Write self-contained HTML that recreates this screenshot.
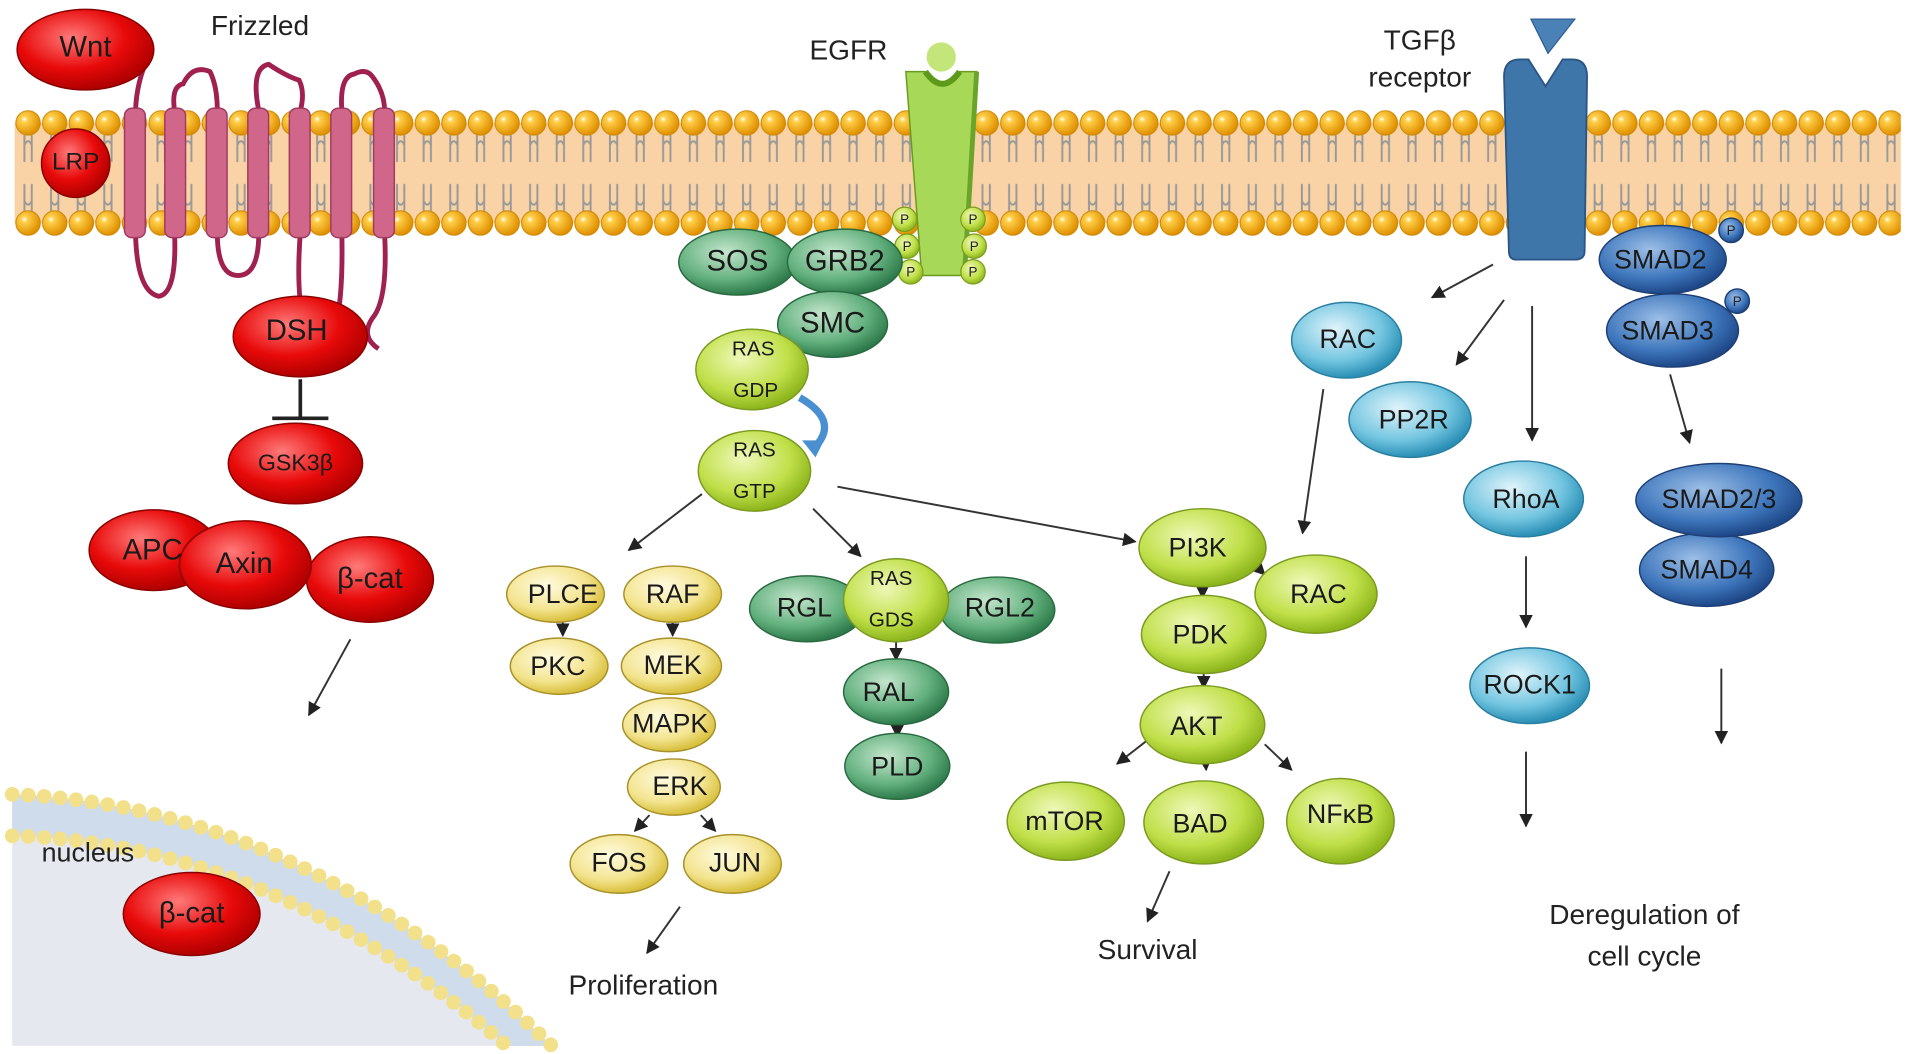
<!DOCTYPE html>
<html><head><meta charset="utf-8"><style>
html,body{margin:0;padding:0;background:#fff;}
svg{display:block;}
text{font-family:"Liberation Sans",sans-serif;fill:#222;}
.n{font-size:24px;text-anchor:middle;dominant-baseline:central;fill:#1a1a1a;}
.s{font-size:17px;text-anchor:middle;dominant-baseline:central;fill:#1a1a1a;}
.l{font-size:23px;text-anchor:middle;fill:#222;}
</style></head><body>
<svg width="1913" height="1054" viewBox="0 0 1567 862" xmlns="http://www.w3.org/2000/svg">
<defs>
<radialGradient id="red" cx="40%" cy="35%" r="65%"><stop offset="0" stop-color="#ff7a7a"/><stop offset="0.6" stop-color="#e80a0a"/><stop offset="1" stop-color="#b00000"/></radialGradient>
<radialGradient id="yel" cx="40%" cy="35%" r="65%"><stop offset="0" stop-color="#fffbe0"/><stop offset="0.65" stop-color="#f3e48f"/><stop offset="1" stop-color="#d8bf3c"/></radialGradient>
<radialGradient id="lg" cx="40%" cy="35%" r="65%"><stop offset="0" stop-color="#eef8b8"/><stop offset="0.65" stop-color="#c0df48"/><stop offset="1" stop-color="#8db51c"/></radialGradient>
<radialGradient id="dg" cx="40%" cy="35%" r="65%"><stop offset="0" stop-color="#c4e6cd"/><stop offset="0.65" stop-color="#62b07d"/><stop offset="1" stop-color="#2e7a4b"/></radialGradient>
<radialGradient id="lb" cx="40%" cy="35%" r="65%"><stop offset="0" stop-color="#e0f4fb"/><stop offset="0.65" stop-color="#73c5e0"/><stop offset="1" stop-color="#2a8fb5"/></radialGradient>
<radialGradient id="db" cx="40%" cy="35%" r="65%"><stop offset="0" stop-color="#9dbfe6"/><stop offset="0.65" stop-color="#3f77bd"/><stop offset="1" stop-color="#1e4888"/></radialGradient>
<radialGradient id="bead" cx="35%" cy="35%" r="65%"><stop offset="0" stop-color="#fff"/><stop offset="0.2" stop-color="#ffcf4a"/><stop offset="1" stop-color="#e09000"/></radialGradient>
<pattern id="mem" x="12" y="88" width="21.8" height="106" patternUnits="userSpaceOnUse">
<path d="M8,22 L8,30 M14,22 L14,30 M8,30 Q11,24 14,30 M8,30 L8,44 M14,30 L14,44 M8,62 L8,76 M14,62 L14,76 M8,76 Q11,82 14,76 M8,76 L8,84 M14,76 L14,84" stroke="#999" stroke-width="1.6" fill="none"/>
<circle cx="11" cy="12" r="10" fill="url(#bead)" stroke="#c98400" stroke-width="0.8"/>
<circle cx="11" cy="94" r="10" fill="url(#bead)" stroke="#c98400" stroke-width="0.8"/>
</pattern>
<marker id="ar" viewBox="0 0 10 10" refX="9" refY="5" markerWidth="7" markerHeight="7" orient="auto"><path d="M0,0 L10,5 L0,10 z" fill="#222"/></marker>
</defs>

<!-- nucleus -->
<path d="M10,650 Q250,660 452,856 L10,856 Z" fill="#e5e9ef"/>
<path d="M10,650 Q250,660 452,856 L415,856 Q225,690 10,684 Z" fill="#cfdceb"/>
<path d="M10,650 Q250,660 452,856" fill="none" stroke="#f3e08a" stroke-width="12" stroke-dasharray="0.1 13" stroke-linecap="round"/>
<path d="M10,650 Q250,660 452,856" fill="none" stroke="#b8a24a" stroke-width="0.6" opacity="0"/>
<path d="M10,684 Q225,690 415,856" fill="none" stroke="#f3e08a" stroke-width="12" stroke-dasharray="0.1 13" stroke-linecap="round"/>
<text x="72" y="705" class="l" style="font-size:22px">nucleus</text>

<!-- membrane -->
<rect x="12" y="100" width="1545" height="82" fill="#f9d3a6"/>
<rect x="12" y="88" width="1545" height="106" fill="url(#mem)"/>

<!-- Frizzled -->
<path d="M122,45 Q112,65 111,90 M143,90 Q140,70 150,68 Q158,52 172,58 Q178,70 178,90 M212,90 Q205,55 220,52 Q235,62 245,65 Q250,75 246,90 M280,90 Q278,62 290,60 Q300,55 305,62 Q315,75 315,90" fill="none" stroke="#a02050" stroke-width="4"/>
<path d="M111,190 Q112,238 130,242 Q145,240 143,190 M178,190 Q178,225 195,225 Q212,225 212,190 M246,190 Q240,270 262,285 Q282,280 280,190 M315,190 Q318,245 305,260 Q295,275 310,285" fill="none" stroke="#a02050" stroke-width="4"/>
<g fill="#d0678a" stroke="#a03a60" stroke-width="1.2">
<rect x="102" y="88" width="17" height="106" rx="6"/><rect x="135" y="88" width="17" height="106" rx="6"/>
<rect x="169" y="88" width="17" height="106" rx="6"/><rect x="203" y="88" width="17" height="106" rx="6"/>
<rect x="237" y="88" width="17" height="106" rx="6"/><rect x="271" y="88" width="17" height="106" rx="6"/>
<rect x="306" y="88" width="17" height="106" rx="6"/></g>
<text x="213" y="28" class="l">Frizzled</text>

<!-- EGFR -->
<circle cx="771" cy="46" r="12" fill="#c4e57a"/>
<path d="M742,58 L758,58 Q772,78 786,58 L800,58 L790,225 L755,225 Z" fill="#a8d858" stroke="#6a9a20" stroke-width="1.2"/>
<path d="M758,58 Q772,78 786,58" fill="none" stroke="#5d9a1a" stroke-width="5"/>
<path d="M800,58 L790,225" stroke="#6aa52a" stroke-width="4"/>
<g fill="url(#lg)" stroke="#7a9d20" stroke-width="1"><circle cx="741" cy="179" r="10"/><circle cx="743" cy="201" r="10"/><circle cx="746" cy="222" r="10"/><circle cx="797" cy="179" r="10"/><circle cx="798" cy="201" r="10"/><circle cx="797" cy="222" r="10"/></g>
<g font-size="11" text-anchor="middle"><text x="741" y="183">P</text><text x="743" y="205">P</text><text x="746" y="226">P</text><text x="797" y="183">P</text><text x="798" y="205">P</text><text x="797" y="226">P</text></g>
<text x="695" y="48" class="l">EGFR</text>

<!-- TGF receptor -->
<path d="M1254,15 L1290,15 L1268,43 Z" fill="#4a82b8" stroke="#2d5f94"/>
<path d="M1232,62 Q1232,48 1245,48 L1252,48 L1266,70 L1280,48 L1288,48 Q1300,48 1300,62 L1298,205 Q1298,212 1290,212 L1242,212 Q1236,212 1236,205 Z" fill="#3f76aa" stroke="#2a5585" stroke-width="1.5"/>
<text x="1163" y="40" class="l">TGFβ</text><text x="1163" y="70" class="l">receptor</text>

<!-- arrows -->
<g stroke="#333" stroke-width="1.6" fill="none" marker-end="url(#ar)">
<line x1="287" y1="523" x2="253" y2="585"/>
<line x1="557" y1="742" x2="530" y2="780"/>
<line x1="575" y1="404" x2="515" y2="450"/>
<line x1="666" y1="416" x2="705" y2="455"/>
<line x1="686" y1="398" x2="930" y2="443"/>
<line x1="461" y1="509" x2="461" y2="520"/><line x1="551" y1="509" x2="551" y2="520"/>
<line x1="550" y1="633" x2="550" y2="622"/>
<line x1="532" y1="667" x2="520" y2="680"/><line x1="574" y1="667" x2="586" y2="680"/>
<line x1="734" y1="522" x2="734" y2="540"/><line x1="735" y1="592" x2="735" y2="603"/>
<line x1="985" y1="478" x2="985" y2="489"/><line x1="986" y1="549" x2="986" y2="563"/>
<line x1="1022" y1="456" x2="1036" y2="470"/>
<line x1="942" y1="604" x2="915" y2="625"/><line x1="987" y1="616" x2="988" y2="630"/><line x1="1036" y1="609" x2="1058" y2="630"/>
<line x1="958" y1="713" x2="940" y2="754"/>
<line x1="1223" y1="216" x2="1173" y2="243"/>
<line x1="1232" y1="245" x2="1193" y2="298"/>
<line x1="1255" y1="250" x2="1255" y2="360"/>
<line x1="1084" y1="318" x2="1067" y2="436"/>
<line x1="1250" y1="455" x2="1250" y2="513"/>
<line x1="1250" y1="615" x2="1250" y2="676"/>
<line x1="1368" y1="306" x2="1384" y2="362"/>
<line x1="1410" y1="547" x2="1410" y2="608"/>
</g>
<path d="M246,310 L246,342 M223,342 L269,342" stroke="#222" stroke-width="3" fill="none"/>
<path d="M655,325 Q690,345 665,368" fill="none" stroke="#4a90d0" stroke-width="6"/>
<path d="M657,360 L668,374 L675,360 Z" fill="#4a90d0"/>

<!-- Wnt pathway nodes -->
<g stroke="#8a0000" stroke-width="1.2">
<ellipse cx="70" cy="40" rx="56" ry="33" fill="url(#red)"/>
<circle cx="62" cy="133" r="28" fill="url(#red)"/>
<ellipse cx="246" cy="275" rx="55" ry="33" fill="url(#red)"/>
<ellipse cx="242" cy="379" rx="55" ry="33" fill="url(#red)"/>
<ellipse cx="126" cy="450" rx="53" ry="33" fill="url(#red)"/>
<ellipse cx="303" cy="474" rx="52" ry="35" fill="url(#red)"/>
<ellipse cx="201" cy="462" rx="54" ry="36" fill="url(#red)"/>
<ellipse cx="157" cy="748" rx="56" ry="34" fill="url(#red)"/>
</g>
<text x="70" y="38" class="n">Wnt</text><text x="62" y="132" class="n" style="font-size:20px">LRP</text>
<text x="243" y="270" class="n">DSH</text><text x="242" y="378" class="s" style="font-size:19px">GSK3β</text>
<text x="125" y="450" class="n">APC</text><text x="200" y="461" class="n">Axin</text><text x="303" y="473" class="n">β-cat</text>
<text x="157" y="747" class="n">β-cat</text>

<!-- EGFR pathway -->
<g stroke="#2a6a40" stroke-width="1.2">
<ellipse cx="604" cy="214" rx="48" ry="27" fill="url(#dg)"/>
<ellipse cx="692" cy="214" rx="47" ry="27" fill="url(#dg)"/>
<ellipse cx="682" cy="265" rx="45" ry="27" fill="url(#dg)"/>
<ellipse cx="661" cy="498" rx="47" ry="27" fill="url(#dg)"/>
<ellipse cx="817" cy="499" rx="47" ry="27" fill="url(#dg)"/>
<ellipse cx="734" cy="566" rx="43" ry="27" fill="url(#dg)"/>
<ellipse cx="735" cy="627" rx="43" ry="27" fill="url(#dg)"/>
</g>
<g stroke="#7a9a20" stroke-width="1.2">
<ellipse cx="616" cy="302" rx="46" ry="33" fill="url(#lg)"/>
<ellipse cx="618" cy="385" rx="46" ry="33" fill="url(#lg)"/>
<ellipse cx="734" cy="491" rx="43" ry="34" fill="url(#lg)"/>
<ellipse cx="985" cy="448" rx="52" ry="32" fill="url(#lg)"/>
<ellipse cx="1078" cy="486" rx="50" ry="32" fill="url(#lg)"/>
<ellipse cx="986" cy="519" rx="51" ry="32" fill="url(#lg)"/>
<ellipse cx="985" cy="593" rx="51" ry="32" fill="url(#lg)"/>
<ellipse cx="873" cy="672" rx="48" ry="32" fill="url(#lg)"/>
<ellipse cx="986" cy="673" rx="49" ry="34" fill="url(#lg)"/>
<ellipse cx="1098" cy="672" rx="44" ry="35" fill="url(#lg)"/>
</g>
<g stroke="#a8902a" stroke-width="1.2">
<ellipse cx="455" cy="486" rx="40" ry="23" fill="url(#yel)"/>
<ellipse cx="551" cy="486" rx="40" ry="23" fill="url(#yel)"/>
<ellipse cx="458" cy="545" rx="40" ry="23" fill="url(#yel)"/>
<ellipse cx="550" cy="545" rx="41" ry="23" fill="url(#yel)"/>
<ellipse cx="548" cy="593" rx="38" ry="22" fill="url(#yel)"/>
<ellipse cx="552" cy="644" rx="38" ry="23" fill="url(#yel)"/>
<ellipse cx="507" cy="707" rx="40" ry="24" fill="url(#yel)"/>
<ellipse cx="600" cy="707" rx="40" ry="24" fill="url(#yel)"/>
</g>
<text x="604" y="213" class="n">SOS</text><text x="692" y="213" class="n">GRB2</text><text x="682" y="264" class="n">SMC</text>
<text x="617" y="285" class="s">RAS</text><text x="619" y="319" class="s">GDP</text>
<text x="618" y="368" class="s">RAS</text><text x="618" y="402" class="s">GTP</text>
<text x="461" y="486" class="n" style="font-size:22px">PLCE</text><text x="551" y="486" class="n" style="font-size:22px">RAF</text>
<text x="457" y="545" class="n" style="font-size:22px">PKC</text><text x="551" y="544" class="n" style="font-size:22px">MEK</text>
<text x="549" y="592" class="n" style="font-size:22px">MAPK</text><text x="557" y="643" class="n" style="font-size:22px">ERK</text>
<text x="507" y="706" class="n" style="font-size:22px">FOS</text><text x="602" y="706" class="n" style="font-size:22px">JUN</text>
<text x="659" y="497" class="n" style="font-size:22px">RGL</text><text x="819" y="497" class="n" style="font-size:22px">RGL2</text>
<text x="730" y="473" class="s">RAS</text><text x="730" y="507" class="s">GDS</text>
<text x="728" y="566" class="n" style="font-size:22px">RAL</text><text x="735" y="627" class="n" style="font-size:22px">PLD</text>
<text x="981" y="448" class="n" style="font-size:22px">PI3K</text><text x="1080" y="486" class="n" style="font-size:22px">RAC</text>
<text x="983" y="519" class="n" style="font-size:22px">PDK</text><text x="980" y="594" class="n" style="font-size:22px">AKT</text>
<text x="872" y="672" class="n" style="font-size:22px">mTOR</text><text x="983" y="674" class="n" style="font-size:22px">BAD</text>
<text x="1098" y="666" class="n" style="font-size:22px">NFκB</text>

<!-- TGF pathway -->
<g stroke="#2a7fa0" stroke-width="1.2">
<ellipse cx="1103" cy="278" rx="45" ry="31" fill="url(#lb)"/>
<ellipse cx="1155" cy="343" rx="50" ry="31" fill="url(#lb)"/>
<ellipse cx="1248" cy="408" rx="49" ry="31" fill="url(#lb)"/>
<ellipse cx="1253" cy="561" rx="49" ry="31" fill="url(#lb)"/>
</g>
<g stroke="#1e3f75" stroke-width="1.2">
<ellipse cx="1370" cy="270" rx="54" ry="30" fill="url(#db)"/>
<circle cx="1423" cy="246" r="10" fill="url(#db)"/>
<ellipse cx="1362" cy="212" rx="52" ry="28" fill="url(#db)"/>
<circle cx="1418" cy="188" r="10" fill="url(#db)"/>
<ellipse cx="1398" cy="466" rx="55" ry="30" fill="url(#db)"/>
<ellipse cx="1408" cy="409" rx="68" ry="30" fill="url(#db)"/>
</g>
<g font-size="11" text-anchor="middle"><text x="1418" y="192">P</text><text x="1423" y="250">P</text></g>
<text x="1104" y="277" class="n" style="font-size:22px">RAC</text><text x="1158" y="343" class="n" style="font-size:22px">PP2R</text>
<text x="1250" y="408" class="n" style="font-size:22px">RhoA</text><text x="1253" y="560" class="n" style="font-size:22px">ROCK1</text>
<text x="1360" y="212" class="n" style="font-size:22px">SMAD2</text><text x="1366" y="270" class="n" style="font-size:22px">SMAD3</text>
<text x="1408" y="408" class="n" style="font-size:22px">SMAD2/3</text><text x="1398" y="466" class="n" style="font-size:22px">SMAD4</text>

<!-- outcome labels -->
<text x="527" y="814" class="l">Proliferation</text>
<text x="940" y="785" class="l">Survival</text>
<text x="1347" y="756" class="l">Deregulation of</text>
<text x="1347" y="790" class="l">cell cycle</text>
</svg>
</body></html>
